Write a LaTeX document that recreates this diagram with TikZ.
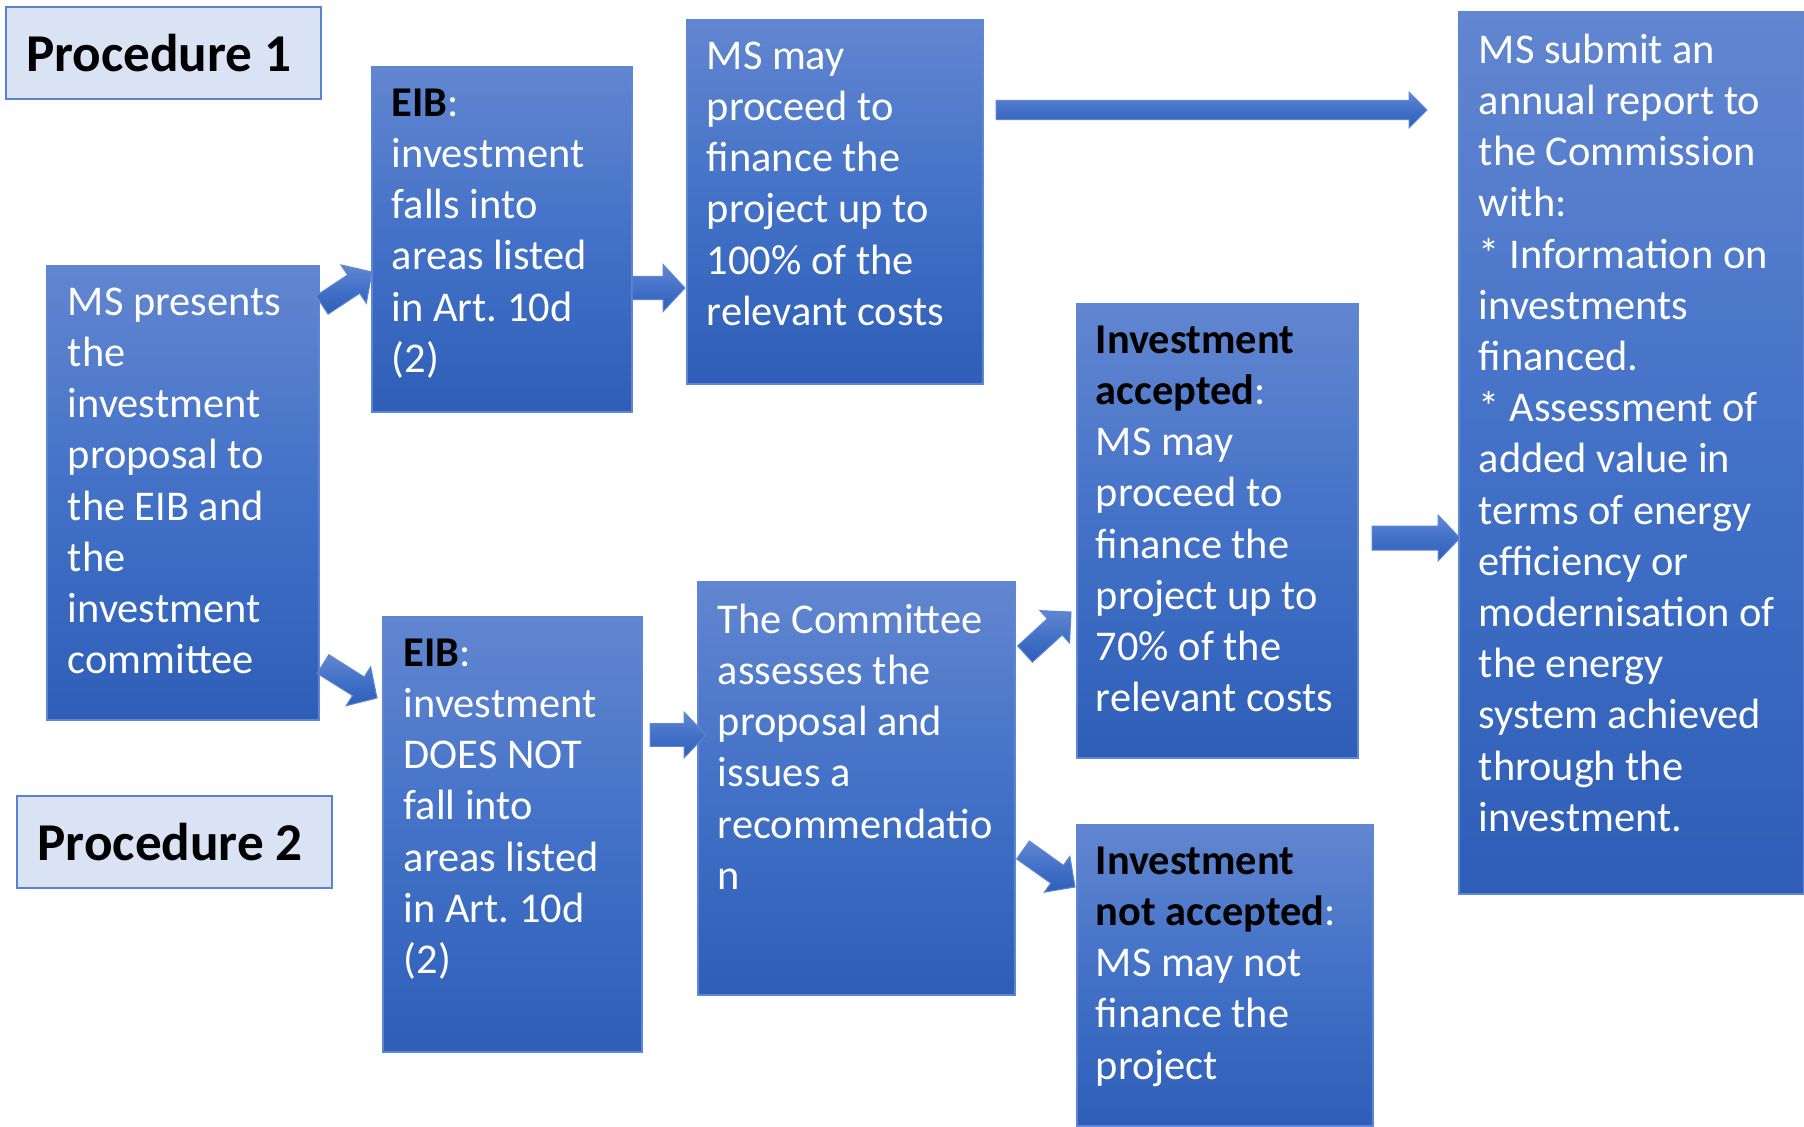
\documentclass[tikz,border=0pt]{standalone}
\usepackage{fontspec}
\setmainfont{Carlito}
\usetikzlibrary{calc,fit}
\frenchspacing
\definecolor{btop}{RGB}{98,134,208}
\definecolor{bmid}{RGB}{66,113,199}
\definecolor{bbot}{RGB}{46,94,183}
\definecolor{bline}{RGB}{95,134,214}
\definecolor{plfill}{RGB}{218,227,243}
\definecolor{plline}{RGB}{90,130,212}
\newcommand\bk[1]{\textcolor{black}{\bfseries #1}}
\newcommand\blockarr[5]{%
  \coordinate (nk) at ($(#2)!#5!(#1)$);
  \path[barrow] ($(#1)!#3!90:(#2)$) -- ($(nk)!#3!90:(#2)$) -- ($(nk)!#4!90:(#2)$) -- (#2)
    -- ($(nk)!#4!-90:(#2)$) -- ($(nk)!#3!-90:(#2)$) -- ($(#1)!#3!-90:(#2)$) -- cycle;
}
\begin{document}
\begin{tikzpicture}[x=0.5pt,y=-0.5pt,
  box/.style={draw=bline, line width=0.6pt, top color=btop, bottom color=bbot, middle color=bmid, inner sep=0pt},
  plabel/.style={draw=plline, line width=0.8pt, fill=plfill, inner sep=0pt},
  txt/.style={text=white, font=\fontsize{21.2pt}{25.6pt}\selectfont\frenchspacing, align=left, inner sep=0pt, anchor=north west},
  ptxt/.style={text=black, font=\fontsize{26.6pt}{30pt}\selectfont\bfseries, inner sep=0pt, anchor=west},
  barrow/.style={draw=bline, line width=0.5pt, top color=btop, bottom color=bbot, middle color=bmid}]
\useasboundingbox (0,0) rectangle (1804,1126);
\fill[white] (0,0) rectangle (1804,1126);

% label boxes
\node[plabel, fit={(6,7)(321,99)}] (p1) {};
\node[ptxt] (p1t) at ([xshift=10.2pt]p1.west) {Procedure 1};
\node[plabel, fit={(17,796)(332,888)}] (p2) {};
\node[ptxt] (p2t) at ([xshift=10.5pt]p2.west) {Procedure 2};

% boxes
\node[box, fit={(47,266)(319,720)}] (ms) {};
\node[box, fit={(372,67)(632,412)}] (eib1) {};
\node[box, fit={(687,20)(983,384)}] (may1) {};
\node[box, fit={(1459,12)(1804,894)}] (rep) {};
\node[box, fit={(1077,304)(1358,758)}] (acc) {};
\node[box, fit={(383,617)(642,1052)}] (eib2) {};
\node[box, fit={(698,582)(1015,995)}] (com) {};
\node[box, fit={(1077,825)(1373,1126)}] (nacc) {};

% texts
\node[txt] (mst) at ([shift={(21,22)}]ms.north west) {MS presents\\the\\investment\\proposal to\\the EIB and\\the\\investment\\committee};
\node[txt] (eib1t) at ([shift={(20,22)}]eib1.north west) {\bk{EIB}:\\investment\\falls into\\areas listed\\in Art. 10d\\(2)};
\node[txt] (may1t) at ([shift={(20,22)}]may1.north west) {MS may\\proceed to\\finance the\\project up to\\100\% of the\\relevant costs};
\node[txt] (rept) at ([shift={(20,22)}]rep.north west) {MS submit an\\annual report to\\the Commission\\with:\\* Information on\\investments\\financed.\\* Assessment of\\added value in\\terms of energy\\efficiency or\\modernisation of\\the energy\\system achieved\\through the\\investment.};
\node[txt] (acct) at ([shift={(19,22)}]acc.north west) {\bk{Investment}\\\bk{accepted}:\\MS may\\proceed to\\finance the\\project up to\\70\% of the\\relevant costs};
\node[txt] (eib2t) at ([shift={(21,22)}]eib2.north west) {\bk{EIB}:\\investment\\DOES NOT\\fall into\\areas listed\\in Art. 10d\\(2)};
\node[txt] (comt) at ([shift={(20,22)}]com.north west) {The Committee\\assesses the\\proposal and\\issues a\\recommendatio\\n};
\node[txt] (nacct) at ([shift={(19,22)}]nacc.north west) {\bk{Investment}\\\bk{not accepted}:\\MS may not\\finance the\\project};

% arrow end points
\coordinate (a1s) at (322,305); \coordinate (a1e) at (372,272);
\coordinate (a2s) at (323,664); \coordinate (a2e) at (377,698);
\coordinate (a3s) at (632,288); \coordinate (a3e) at (685,288);
\coordinate (a4s) at (996,110); \coordinate (a4e) at (1427,110);
\coordinate (a5s) at (650,735); \coordinate (a5e) at (706,735);
\coordinate (a6s) at (1025,654); \coordinate (a6e) at (1071,612);
\coordinate (a7s) at (1023,850); \coordinate (a7e) at (1075,887);
\coordinate (a8s) at (1372,538); \coordinate (a8e) at (1460,538);

\blockarr{a1s}{a1e}{5.5pt}{11.5pt}{11pt}
\blockarr{a2s}{a2e}{5.5pt}{11.5pt}{11pt}
\blockarr{a3s}{a3e}{5.8pt}{11.8pt}{11pt}
\blockarr{a4s}{a4e}{4.8pt}{9pt}{9pt}
\blockarr{a5s}{a5e}{5.7pt}{11.5pt}{11pt}
\blockarr{a6s}{a6e}{5.5pt}{11pt}{11pt}
\blockarr{a7s}{a7e}{5.5pt}{11pt}{11pt}
\blockarr{a8s}{a8e}{6pt}{11.5pt}{11pt}
\end{tikzpicture}
\end{document}
